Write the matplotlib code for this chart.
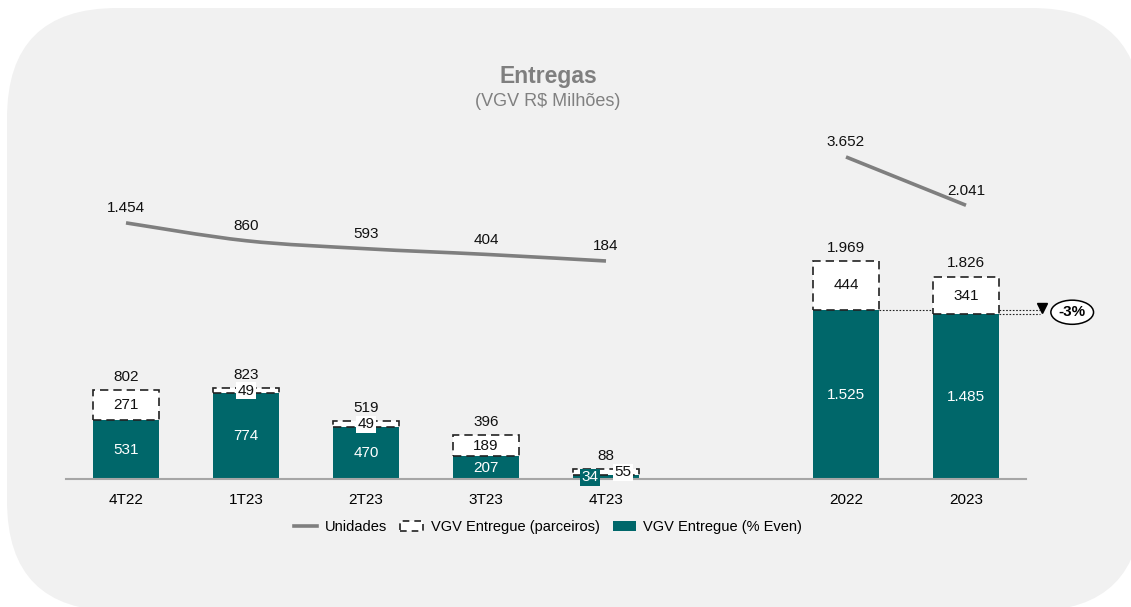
import matplotlib
matplotlib.use('Agg')
import matplotlib.pyplot as plt
from matplotlib.patches import FancyBboxPatch, Patch, PathPatch
from matplotlib.lines import Line2D
from matplotlib.path import Path
from matplotlib.transforms import IdentityTransform

plt.rcParams['font.family'] = ['Liberation Sans', 'DejaVu Sans']

# ---------------- data ----------------
categories = ['4T22', '1T23', '2T23', '3T23', '4T23', '2022', '2023']
positions = [0, 1, 2, 3, 4, 6, 7]
vgv_even = [531, 774, 470, 207, 34, 1525, 1485]
vgv_parceiros = [271, 49, 49, 189, 55, 444, 341]
vgv_total = [802, 823, 519, 396, 88, 1969, 1826]
unidades = [1454, 860, 593, 404, 184, 3652, 2041]
line_groups = [[0, 1, 2, 3, 4], [5, 6]]
variation_label = '-3%'

title = 'Entregas'
subtitle = '(VGV R$ Milhões)'
legend_labels = ['Unidades', 'VGV Entregue (parceiros)', 'VGV Entregue (% Even)']

# ---------------- style ----------------
TEAL = '#00676a'
GRAY_LINE = '#7f7f7f'
BG = '#f1f1f1'
W, H = 1131, 607
FS = 11


def fmt(v):
    return f'{v:,}'.replace(',', '.')


fig = plt.figure(figsize=(W / 100, H / 100), dpi=100)
fig.patch.set_facecolor('white')

bg = FancyBboxPatch((7, -4), 1135, 603, boxstyle='round,pad=0,rounding_size=110',
                    transform=IdentityTransform(), facecolor=BG, edgecolor='none', zorder=0)
fig.add_artist(bg)

ax = fig.add_axes([66 / W, (H - 479) / H, 960 / W, 360 / H])
ax.patch.set_visible(False)
ax.set_xlim(-0.5, 7.5)
ax.set_ylim(0, 360 / 0.1108)
for s in ['top', 'left', 'right']:
    ax.spines[s].set_visible(False)
ax.spines['bottom'].set_color('#a6a6a6')
ax.spines['bottom'].set_linewidth(1.5)
ax.set_yticks([])
ax.set_xticks(positions, categories, fontsize=FS)
ax.tick_params(axis='x', length=0, pad=10)

bw = 0.55
ax.bar(positions, vgv_even, width=bw, color=TEAL, zorder=2)
ax.bar(positions, vgv_parceiros, bottom=vgv_even, width=bw, facecolor='white',
       edgecolor='#222222', linestyle=(0, (5, 3)), linewidth=1.2, zorder=3)

label_dx = {4: (-0.13, 0.14)}
for i, p in enumerate(positions):
    dxe, dxp = label_dx.get(i, (0, 0))
    small_e = vgv_even[i] < 100
    small_p = vgv_parceiros[i] < 100
    ax.text(p + dxe, vgv_even[i] / 2, fmt(vgv_even[i]), ha='center', va='center',
            color='white', fontsize=FS, zorder=5,
            bbox=dict(boxstyle='square,pad=0.1', fc=TEAL, ec='none') if small_e else None)
    ax.text(p + dxp, vgv_even[i] + vgv_parceiros[i] / 2, fmt(vgv_parceiros[i]),
            ha='center', va='center', color='#111111', fontsize=FS, zorder=5,
            bbox=dict(boxstyle='square,pad=0.1', fc='white', ec='none') if small_p else None)
    ax.annotate(fmt(vgv_total[i]), (p, vgv_total[i]), xytext=(0, 9.5),
                textcoords='offset points', ha='center', va='center',
                fontsize=FS, color='#111111', zorder=5)

# variation annotation
ax.plot([positions[5] + bw / 2, 7.62], [vgv_even[5]] * 2, color='#222222', lw=0.8,
        linestyle=(0, (1.5, 1.5)), clip_on=False, zorder=1)
ax.plot([positions[6] + bw / 2, 7.62], [vgv_even[6]] * 2, color='#222222', lw=0.8,
        linestyle=(0, (1.5, 1.5)), clip_on=False, zorder=1)
ax.plot([7.635], [vgv_even[5] + 20], marker='v', color='black', ms=7, clip_on=False, zorder=4)
ax.text(7.885, (vgv_even[5] + vgv_even[6]) / 2, variation_label, ha='center', va='center',
        fontsize=FS, fontweight='bold',
        bbox=dict(boxstyle='ellipse,pad=0.1', fc='white', ec='black', lw=1.1), zorder=6)

# line (Unidades) on secondary axis
ax2 = ax.twinx()
ax2.set_ylim(-7083, 4917)
ax2.axis('off')


def smooth_path(xs, ys, k=1.0):
    pts = list(zip(xs, ys))
    verts = [pts[0]]
    codes = [Path.MOVETO]
    n = len(pts)
    for i in range(n - 1):
        p0 = pts[max(i - 1, 0)]
        p1 = pts[i]
        p2 = pts[i + 1]
        p3 = pts[min(i + 2, n - 1)]
        c1 = (p1[0] + (p2[0] - p0[0]) / 6 * k, p1[1] + (p2[1] - p0[1]) / 6 * k)
        c2 = (p2[0] - (p3[0] - p1[0]) / 6 * k, p2[1] - (p3[1] - p1[1]) / 6 * k)
        verts += [c1, c2, p2]
        codes += [Path.CURVE4] * 3
    return Path(verts, codes)


for g in line_groups:
    xs = [positions[i] for i in g]
    ys = [unidades[i] for i in g]
    ax2.add_patch(PathPatch(smooth_path(xs, ys), facecolor='none', edgecolor=GRAY_LINE,
                            lw=2.6, capstyle='butt', zorder=3))
    for x, y in zip(xs, ys):
        ax2.annotate(fmt(y), (x, y), xytext=(0, 10.5), textcoords='offset points',
                     ha='center', va='center', fontsize=FS, color='#111111')

# titles
fig.text(548 / W, 1 - 76 / H, title, ha='center', va='center', fontsize=16.5,
         fontweight='bold', color='#7f7f7f')
fig.text(548 / W, 1 - 101 / H, subtitle, ha='center', va='center', fontsize=13,
         color='#808080')

# legend
handles = [
    Line2D([], [], color=GRAY_LINE, lw=2.6),
    Patch(facecolor='white', edgecolor='#222222', linestyle=(0, (4, 3)), linewidth=1.2),
    Patch(facecolor=TEAL, edgecolor='none'),
]
fig.legend(handles, legend_labels, loc='center', bbox_to_anchor=(548 / W, 1 - 527 / H),
           ncol=3, frameon=False, fontsize=10.5, handlelength=1.6, handletextpad=0.5,
           columnspacing=0.9)

fig.savefig('out.png', dpi=100)
